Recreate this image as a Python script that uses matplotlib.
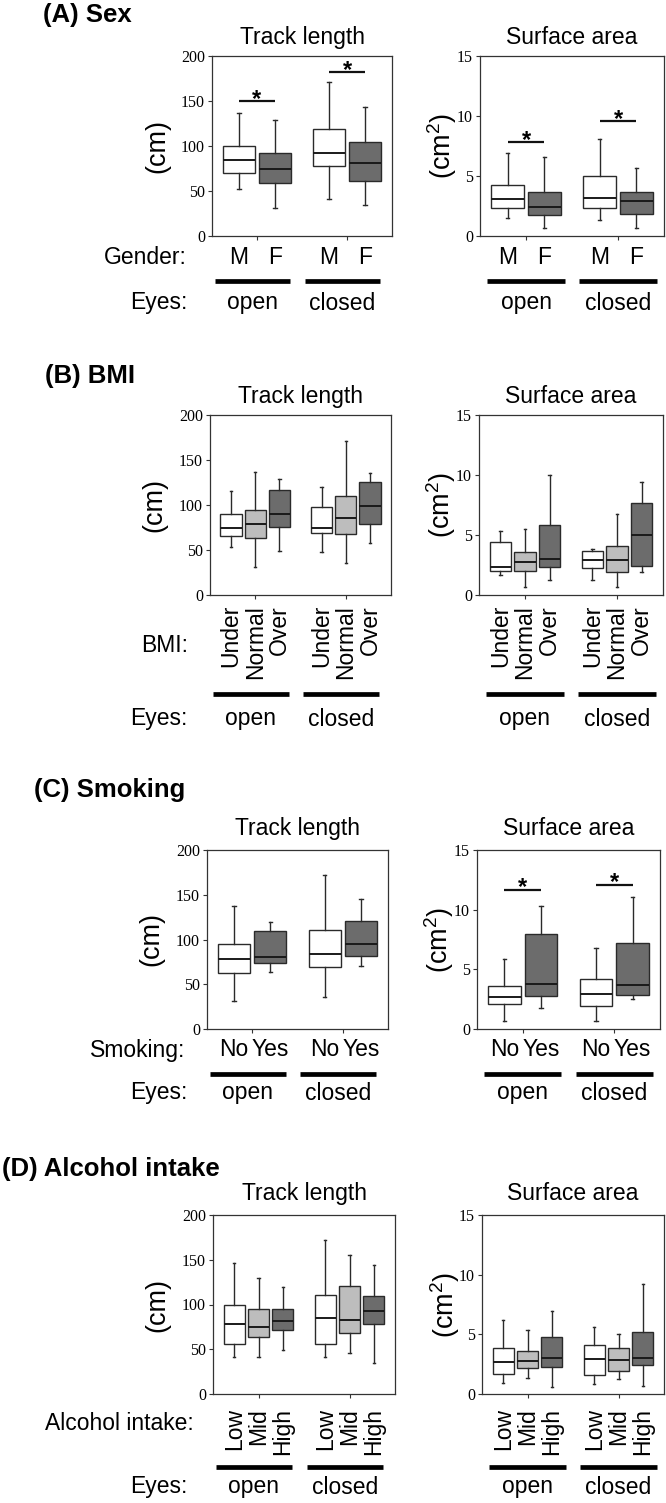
import matplotlib
matplotlib.use('Agg')
import matplotlib.pyplot as plt
from matplotlib.transforms import blended_transform_factory as btf

W, H, DPI = 666, 1503, 100
SANS = 'Liberation Sans'
SERIF = 'Liberation Serif'
plt.rcParams['mathtext.fontset'] = 'custom'
plt.rcParams['mathtext.rm'] = SANS
plt.rcParams['mathtext.it'] = SANS + ':italic'
plt.rcParams['mathtext.bf'] = SANS + ':bold'

# ---------------- data (five-number summaries) -------------
eyes_labels = ['open', 'closed']

sex_labels = ['M', 'F']
sex_track_lo = [52, 31, 41, 35]
sex_track_q1 = [70, 59, 78, 61]
sex_track_med = [85, 75, 92, 81]
sex_track_q3 = [100, 92, 119, 104]
sex_track_hi = [137, 129, 171, 143]
sex_surf_lo = [1.5, 0.64, 1.3, 0.64]
sex_surf_q1 = [2.33, 1.72, 2.36, 1.83]
sex_surf_med = [3.1, 2.44, 3.19, 2.88]
sex_surf_q3 = [4.24, 3.7, 5.0, 3.7]
sex_surf_hi = [6.93, 6.6, 8.12, 5.63]
sex_track_sig = [150, 182]
sex_surf_sig = [7.82, 9.56]

bmi_labels = ['Under', 'Normal', 'Over']
bmi_track_lo = [53, 31, 49, 48, 36, 58]
bmi_track_q1 = [66, 63, 76, 69, 68, 79]
bmi_track_med = [74, 79, 90, 75, 86, 99]
bmi_track_q3 = [90, 94, 117, 98, 110, 126]
bmi_track_hi = [116, 137, 129, 120, 171, 136]
bmi_surf_lo = [1.67, 0.64, 1.25, 1.25, 0.64, 1.92]
bmi_surf_q1 = [2.03, 2.03, 2.3, 2.22, 1.89, 2.44]
bmi_surf_med = [2.36, 2.78, 2.97, 2.92, 2.89, 4.97]
bmi_surf_q3 = [4.44, 3.61, 5.83, 3.69, 4.08, 7.64]
bmi_surf_hi = [5.33, 5.53, 9.97, 3.83, 6.72, 9.44]

smk_labels = ['No', 'Yes']
smk_track_lo = [31, 64, 35.5, 70]
smk_track_q1 = [62.5, 74, 69, 82]
smk_track_med = [78, 80.5, 84, 95]
smk_track_q3 = [95, 109.5, 111, 121]
smk_track_hi = [137.5, 119.5, 172, 145]
smk_surf_lo = [0.64, 1.73, 0.64, 2.54]
smk_surf_q1 = [2.06, 2.79, 1.95, 2.87]
smk_surf_med = [2.7, 3.74, 2.9, 3.65]
smk_surf_q3 = [3.62, 7.95, 4.18, 7.22]
smk_surf_hi = [5.88, 10.34, 6.75, 11.07]
smk_surf_sig = [11.68, 12.1]

alc_labels = ['Low', 'Mid', 'High']
alc_track_lo = [41, 41, 49, 41, 46, 35]
alc_track_q1 = [55.5, 64, 72, 55.5, 68, 78]
alc_track_med = [78, 75, 81.5, 85, 82.5, 92.5]
alc_track_q3 = [99, 94.5, 95, 110.5, 120.5, 110]
alc_track_hi = [146, 129.5, 119.5, 172, 155, 144]
alc_surf_lo = [0.95, 1.37, 0.61, 0.84, 1.28, 0.67]
alc_surf_q1 = [1.68, 2.15, 2.23, 1.59, 1.93, 2.43]
alc_surf_med = [2.65, 2.77, 3.02, 2.9, 2.85, 3.02]
alc_surf_q3 = [3.83, 3.6, 4.78, 4.1, 3.83, 5.17]
alc_surf_hi = [6.2, 5.33, 6.96, 5.64, 5.0, 9.19]

track_ticks = [0, 50, 100, 150, 200]
surf_ticks = [0, 5, 10, 15]

# ---------------- style ----------------
WHITE, LIGHT, DARK = '#ffffff', '#bdbdbd', '#6c6c6c'
EDGE = '#2a2a2a'
GROUP_CENTERS = [0.25, 0.75]

fig = plt.figure(figsize=(W / DPI, H / DPI), dpi=DPI)


def fy(p):
    return 1 - p / H


def add_ax(left, top, right, bottom):
    return fig.add_axes([left / W, 1 - bottom / H, (right - left) / W, (bottom - top) / H])


def positions_for(n):
    slot = 0.4 / n
    pos = [c + (i - (n - 1) / 2) * slot for c in GROUP_CENTERS for i in range(n)]
    return pos, slot


def draw_axes(ax, lo, q1, med, q3, hi, colors, ylim, yticks, ylabel, ylabel_x, sig=None):
    n = len(colors)
    pos, slot = positions_for(n)
    stats = [dict(whislo=lo[k], q1=q1[k], med=med[k], q3=q3[k], whishi=hi[k], fliers=[])
             for k in range(len(med))]
    bp = ax.bxp(stats, positions=pos, widths=slot * 0.88, patch_artist=True,
                showfliers=False, capwidths=slot * 0.1,
                boxprops=dict(linewidth=1.0, edgecolor=EDGE),
                medianprops=dict(color='#1a1a1a', linewidth=1.4),
                whiskerprops=dict(color=EDGE, linewidth=1.0),
                capprops=dict(color=EDGE, linewidth=1.0))
    for patch, col in zip(bp['boxes'], colors * 2):
        patch.set_facecolor(col)
    ax.set_xlim(0, 1)
    ax.set_ylim(*ylim)
    ax.set_xticks(GROUP_CENTERS)
    ax.set_xticklabels([])
    ax.set_yticks(yticks, labels=[str(t) for t in yticks], fontfamily=SERIF, fontsize=11.5)
    ax.tick_params(direction='out', length=3, width=0.8, color='#333333', pad=2)
    for s in ax.spines.values():
        s.set_linewidth(0.9)
        s.set_color('#333333')
    ax.text(ylabel_x, 0.5, ylabel, transform=ax.transAxes, rotation=90,
            ha='center', va='center', fontsize=19.5, fontfamily=SANS)
    if sig:
        for g, yv in enumerate(sig):
            x0, x1 = pos[g * n], pos[g * n + n - 1]
            ax.plot([x0, x1], [yv, yv], color='#111111', lw=1.6, solid_capstyle='butt')
            ax.annotate('*', xy=((x0 + x1) / 2, yv), xytext=(0, -3.5), textcoords='offset points',
                        ha='center', va='baseline', fontsize=17, fontweight='bold', fontfamily=SANS)
    return pos


def panel(letter, letter_x, letter_base, title_base, top, bottom, track_x, surf_x,
          cats, colors, track, surf, track_sig, surf_sig,
          row_label, row_label_right, row_y, rotated, bars_y, eyes_y):
    fig.text(letter_x / W, fy(letter_base), letter, fontsize=18.5, fontweight='bold',
             fontfamily=SANS, ha='left', va='baseline')
    specs = [
        (track_x, track, track_ticks, (0, 200), '(cm)', -0.305, track_sig, 'Track length', -0.025),
        (surf_x, surf, surf_ticks, (0, 15), '(cm$^{2}$)', -0.205, surf_sig, 'Surface area', 0.0),
    ]
    for k, (xr, data, ticks, ylim, ylab, ylx, sig, title, shift) in enumerate(specs):
        ax = add_ax(xr[0], top, xr[1], bottom)
        pos = draw_axes(ax, *data, colors, ylim, ticks, ylab, ylx, sig)
        tr = btf(ax.transData, fig.transFigure)
        ax.text(0.5, fy(title_base), title, transform=tr, ha='center', va='baseline',
                fontsize=16.5, fontfamily=SANS)
        for i, p in enumerate(pos):
            lab = cats[i % len(cats)]
            if rotated:
                ax.text(p, fy(row_y), lab, transform=tr, rotation=90, ha='center', va='top',
                        fontsize=16.5, fontfamily=SANS)
            else:
                ax.text(p, fy(row_y), lab, transform=tr, ha='center', va='center',
                        fontsize=16.5, fontfamily=SANS)
        for g, c in enumerate(GROUP_CENTERS):
            cc = c + shift
            ax.plot([cc - 0.21, cc + 0.21], [fy(bars_y)] * 2, transform=tr, color='black',
                    lw=3.4, solid_capstyle='butt', clip_on=False)
            ax.text(cc, fy(eyes_y), eyes_labels[g], transform=tr, ha='center', va='center',
                    fontsize=16.5, fontfamily=SANS)
    ry = row_y if not rotated else row_label[1]
    fig.text(row_label_right / W, fy(ry), row_label[0], ha='right', va='center',
             fontsize=16.5, fontfamily=SANS)
    fig.text(187 / W, fy(eyes_y), 'Eyes:', ha='right', va='center',
             fontsize=16.5, fontfamily=SANS)


two = [WHITE, DARK]
three = [WHITE, LIGHT, DARK]

panel('(A) Sex', 43, 22, 44, 56, 236, (212, 392), (480, 664),
      sex_labels, two,
      (sex_track_lo, sex_track_q1, sex_track_med, sex_track_q3, sex_track_hi),
      (sex_surf_lo, sex_surf_q1, sex_surf_med, sex_surf_q3, sex_surf_hi),
      sex_track_sig, sex_surf_sig,
      ('Gender:', None), 187, 257, False, 281, 303)

panel('(B) BMI', 45, 383, 403, 415, 595, (210, 391), (479, 663),
      bmi_labels, three,
      (bmi_track_lo, bmi_track_q1, bmi_track_med, bmi_track_q3, bmi_track_hi),
      (bmi_surf_lo, bmi_surf_q1, bmi_surf_med, bmi_surf_q3, bmi_surf_hi),
      None, None,
      ('BMI:', 645), 188, 605, True, 694, 719)

panel('(C) Smoking', 34, 797, 835, 850, 1029, (207, 388), (477, 660),
      smk_labels, two,
      (smk_track_lo, smk_track_q1, smk_track_med, smk_track_q3, smk_track_hi),
      (smk_surf_lo, smk_surf_q1, smk_surf_med, smk_surf_q3, smk_surf_hi),
      None, smk_surf_sig,
      ('Smoking:', None), 185, 1050, False, 1074, 1093)

panel('(D) Alcohol intake', 2, 1176, 1200, 1215, 1394, (213, 395), (482, 664),
      alc_labels, three,
      (alc_track_lo, alc_track_q1, alc_track_med, alc_track_q3, alc_track_hi),
      (alc_surf_lo, alc_surf_q1, alc_surf_med, alc_surf_q3, alc_surf_hi),
      None, None,
      ('Alcohol intake:', 1423), 194, 1408, True, 1467, 1487)

fig.savefig('out.png', dpi=DPI)
